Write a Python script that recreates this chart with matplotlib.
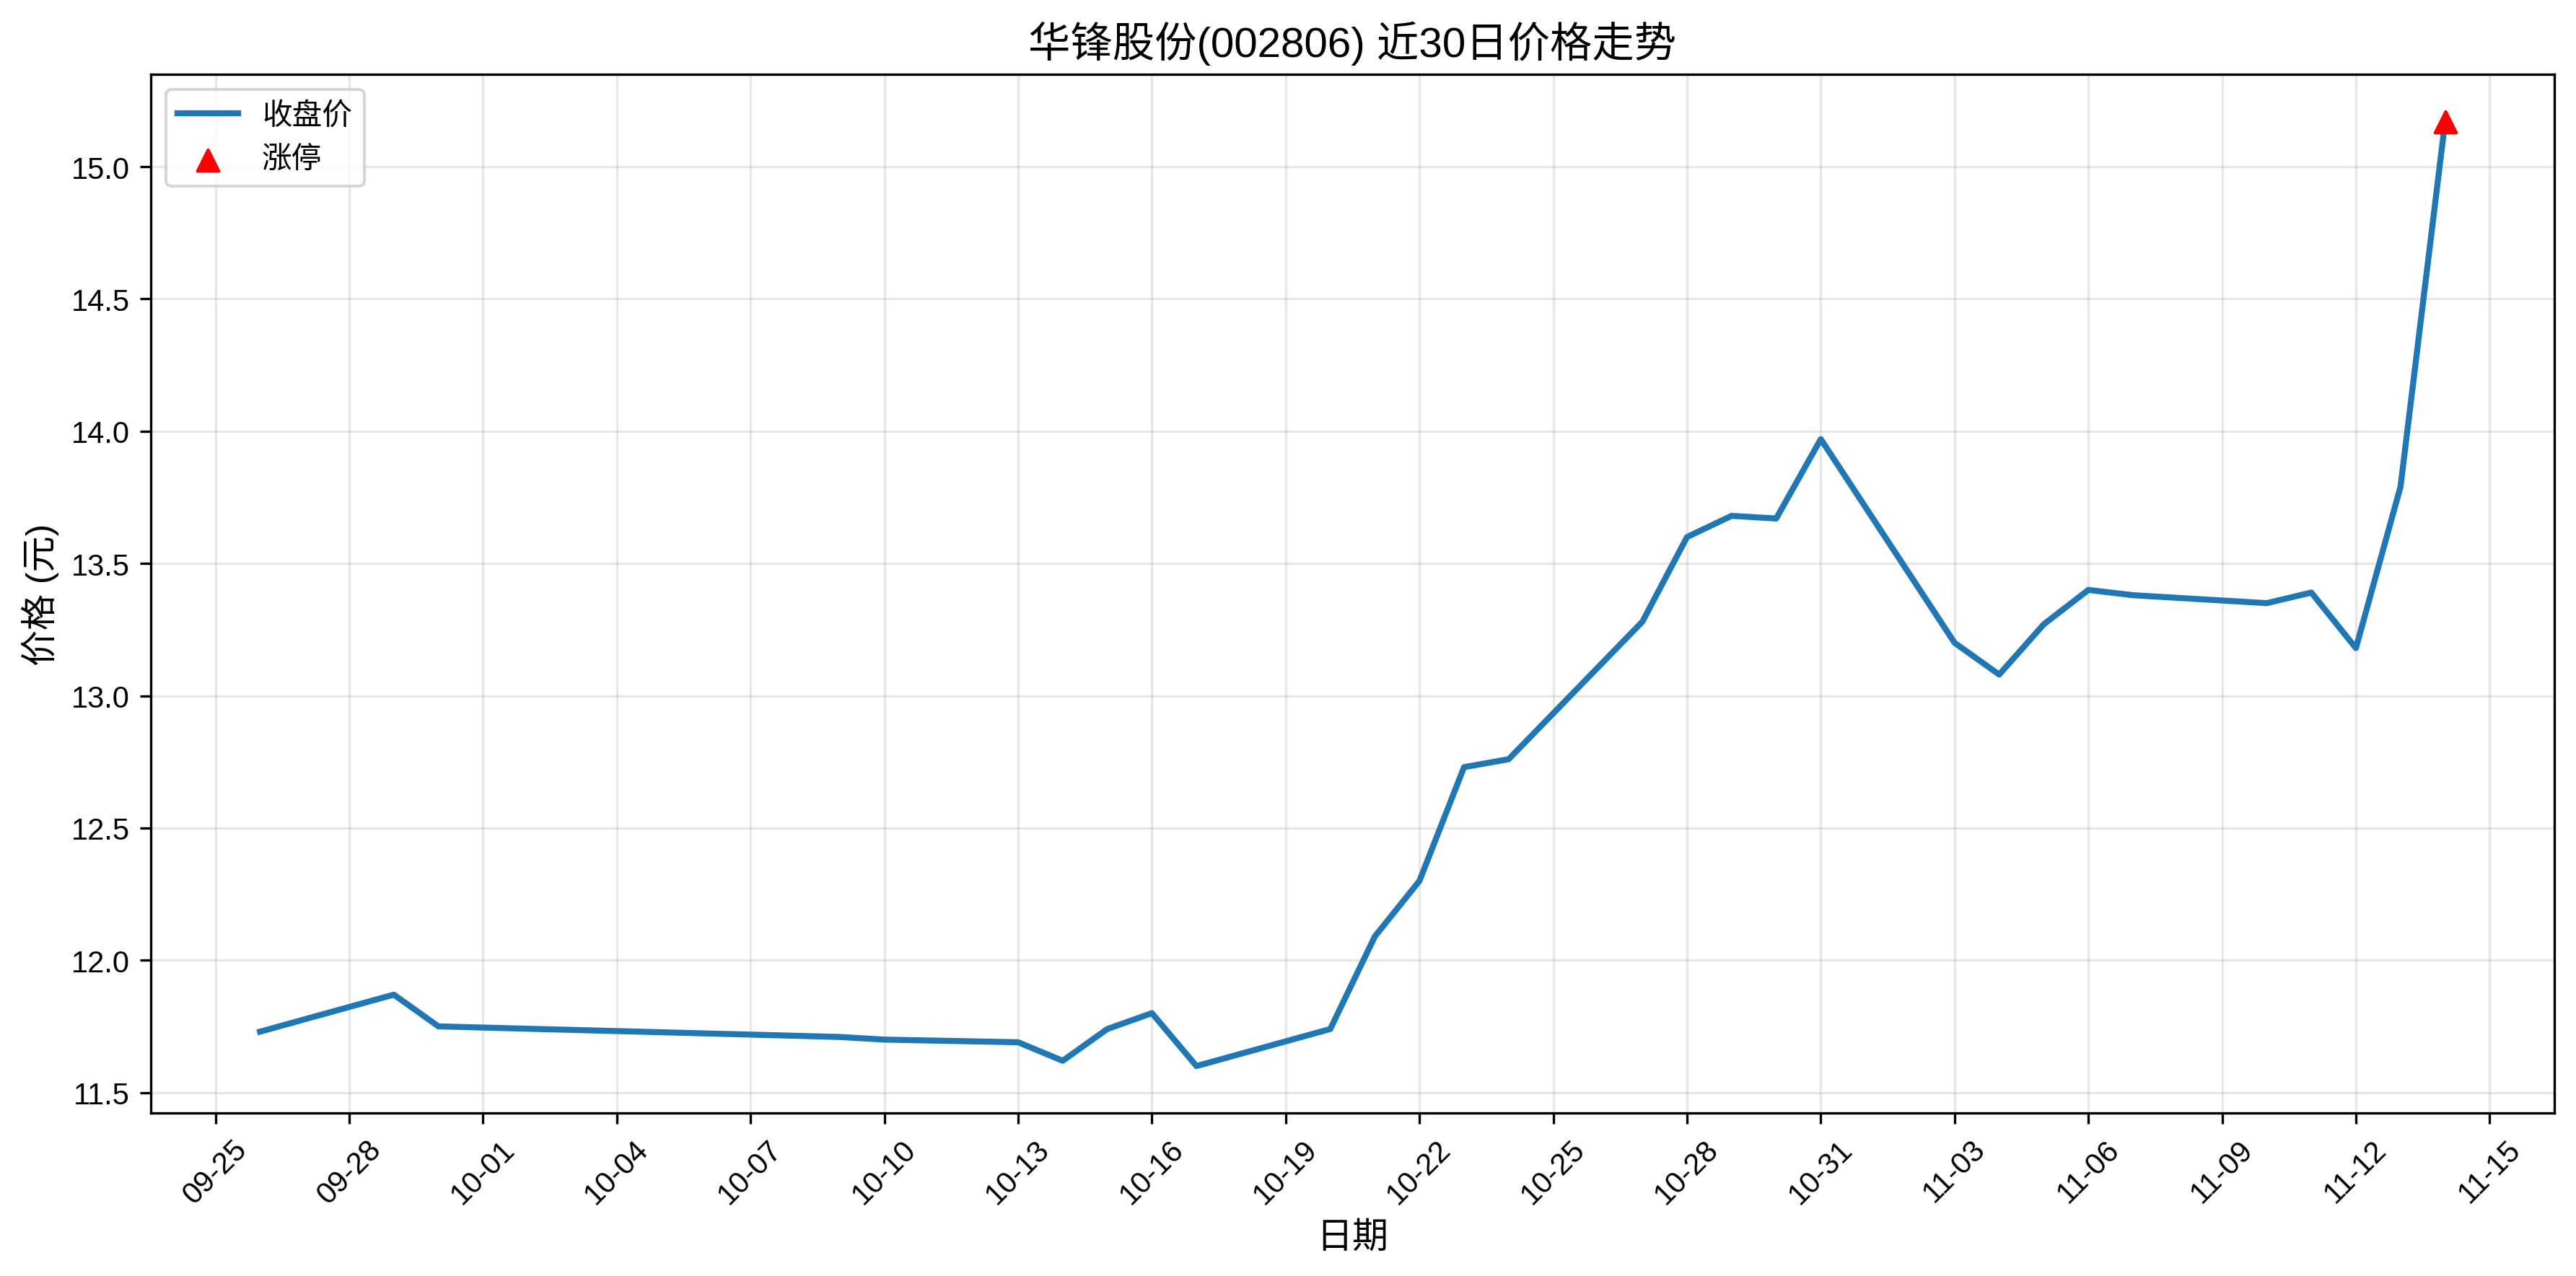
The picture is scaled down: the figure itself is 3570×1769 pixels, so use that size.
import pandas as pd
import matplotlib
matplotlib.use("Agg")
import matplotlib.pyplot as plt
import matplotlib.dates as mdates

plt.rcParams["font.family"] = ["Liberation Sans", "Noto Sans CJK SC", "DejaVu Sans"]
plt.rcParams["axes.unicode_minus"] = False

# 近30个交易日收盘价
datas = [
    "2025-09-26", "2025-09-29", "2025-09-30", "2025-10-09", "2025-10-10",
    "2025-10-13", "2025-10-14", "2025-10-15", "2025-10-16", "2025-10-17",
    "2025-10-20", "2025-10-21", "2025-10-22", "2025-10-23", "2025-10-24",
    "2025-10-27", "2025-10-28", "2025-10-29", "2025-10-30", "2025-10-31",
    "2025-11-03", "2025-11-04", "2025-11-05", "2025-11-06", "2025-11-07",
    "2025-11-10", "2025-11-11", "2025-11-12", "2025-11-13", "2025-11-14",
]
fechamento = [
    11.73, 11.87, 11.75, 11.71, 11.70,
    11.69, 11.62, 11.74, 11.80, 11.60,
    11.74, 12.09, 12.30, 12.73, 12.76,
    13.28, 13.60, 13.68, 13.67, 13.97,
    13.20, 13.08, 13.27, 13.40, 13.38,
    13.35, 13.39, 13.18, 13.79, 15.17,
]
# 涨停日
datas_limite = ["2025-11-14"]
precos_limite = [15.17]

titulo = "华锋股份(002806) 近30日价格走势"

datas = pd.to_datetime(datas)
datas_limite = pd.to_datetime(datas_limite)

fig, ax = plt.subplots(figsize=(12, 6), dpi=300)

ax.plot(datas, fechamento, color="#1f77b4", linewidth=2, label="收盘价")
ax.scatter(datas_limite, precos_limite, marker="^", color="red", s=50,
           zorder=5, label="涨停")

ax.set_title(titulo, fontsize=14)
ax.set_xlabel("日期", fontsize=12)
ax.set_ylabel("价格 (元)", fontsize=12)

ticks = pd.date_range("2025-09-25", "2025-11-15", freq="3D")
ax.set_xticks(ticks)
ax.xaxis.set_major_formatter(mdates.DateFormatter("%m-%d"))
plt.setp(ax.get_xticklabels(), rotation=45)

ax.grid(True, alpha=0.3)
ax.legend(loc="upper left")

plt.tight_layout()
plt.savefig("out.png", dpi=300, bbox_inches="tight")
